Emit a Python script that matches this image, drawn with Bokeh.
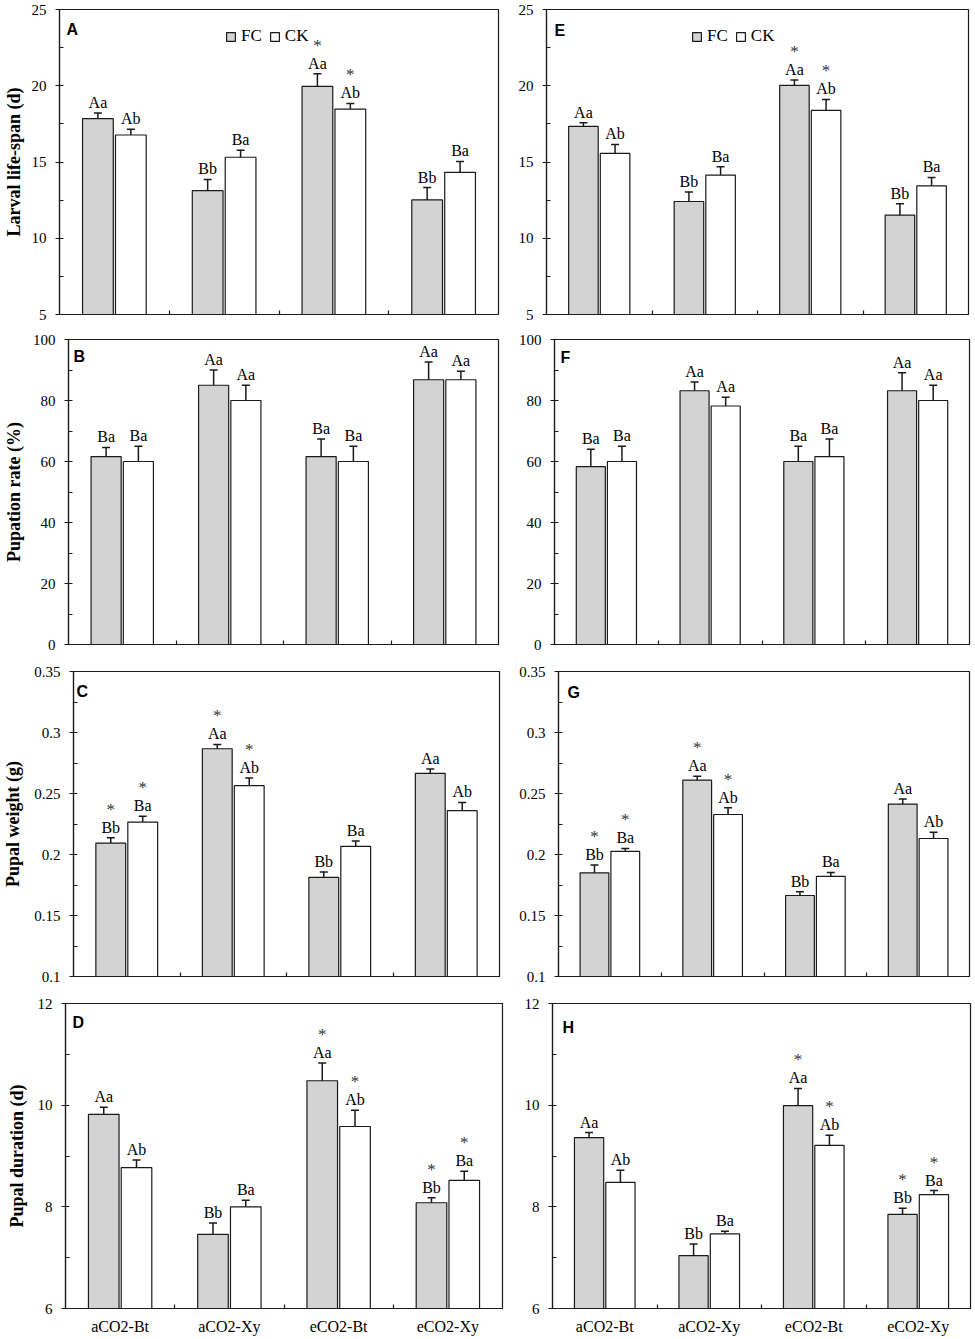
import numpy as np
from bokeh.plotting import figure
from bokeh.models import (ColumnDataSource, Whisker, TeeHead, LabelSet, Label, Legend,
                          LegendItem, FixedTicker, CustomJSTickFormatter, Range1d)
from bokeh.layouts import row, column
from bokeh.core.properties import value
from bokeh.embed import file_html
from bokeh.resources import INLINE

# ---------------- data ----------------
groups = ["aCO2-Bt", "aCO2-Xy", "eCO2-Bt", "eCO2-Xy"]

larval_ticks = [5, 10, 15, 20, 25]
pupation_ticks = [0, 20, 40, 60, 80, 100]
weight_ticks = [0.1, 0.15, 0.2, 0.25, 0.3, 0.35]
duration_ticks = [6, 8, 10, 12]

# A: larval life-span, left column
A_fc = [17.84, 13.12, 19.96, 12.51]
A_fc_err = [0.37, 0.74, 0.83, 0.81]
A_ck = [16.77, 15.31, 18.47, 14.32]
A_ck_err = [0.37, 0.46, 0.37, 0.72]
# E: larval life-span, right column
E_fc = [17.33, 12.41, 20.02, 11.51]
E_fc_err = [0.24, 0.63, 0.35, 0.75]
E_ck = [15.56, 14.14, 18.38, 13.44]
E_ck_err = [0.59, 0.55, 0.72, 0.55]
larval_fc_lab = ["Aa", "Bb", "Aa", "Bb"]
larval_ck_lab = ["Ab", "Ba", "Ab", "Ba"]
larval_fc_star = ["", "", "*", ""]
larval_ck_star = ["", "", "*", ""]

# B / F: pupation rate
B_fc = [61.6, 85.0, 61.6, 86.8]
B_fc_err = [3.0, 5.0, 5.8, 5.8]
B_ck = [60.0, 80.0, 60.0, 86.8]
B_ck_err = [5.0, 5.0, 5.0, 2.8]
F_fc = [58.3, 83.2, 60.0, 83.2]
F_fc_err = [5.7, 2.9, 5.0, 5.9]
F_ck = [60.0, 78.2, 61.6, 80.0]
F_ck_err = [5.0, 2.9, 5.8, 5.0]
pupation_fc_lab = ["Ba", "Aa", "Ba", "Aa"]
pupation_ck_lab = ["Ba", "Aa", "Ba", "Aa"]
pupation_fc_star = ["", "", "", ""]
pupation_ck_star = ["", "", "", ""]

# C / G: pupal weight
C_fc = [0.2094, 0.2867, 0.1813, 0.2665]
C_fc_err = [0.0044, 0.0035, 0.0044, 0.0035]
C_ck = [0.2266, 0.2564, 0.2067, 0.2359]
C_ck_err = [0.0047, 0.0063, 0.0044, 0.0068]
G_fc = [0.1850, 0.2609, 0.1664, 0.2413]
G_fc_err = [0.0063, 0.0033, 0.0030, 0.0041]
G_ck = [0.2025, 0.2328, 0.1820, 0.2131]
G_ck_err = [0.0025, 0.0055, 0.0033, 0.0052]
weight_fc_lab = ["Bb", "Aa", "Bb", "Aa"]
weight_ck_lab = ["Ba", "Ab", "Ba", "Ab"]
weight_fc_star = ["*", "*", "", ""]
weight_ck_star = ["*", "*", "", ""]

# D / H: pupal duration
D_fc = [9.82, 7.46, 10.48, 8.08]
D_fc_err = [0.14, 0.22, 0.35, 0.10]
D_ck = [8.77, 8.00, 9.58, 8.52]
D_ck_err = [0.15, 0.13, 0.32, 0.18]
H_fc = [9.36, 7.04, 9.99, 7.85]
H_fc_err = [0.10, 0.23, 0.34, 0.12]
H_ck = [8.48, 7.47, 9.21, 8.24]
H_ck_err = [0.24, 0.05, 0.20, 0.08]
duration_fc_lab = ["Aa", "Bb", "Aa", "Bb"]
duration_ck_lab = ["Ab", "Ba", "Ab", "Ba"]
duration_fc_star = ["", "", "*", "*"]
duration_ck_star = ["", "", "*", "*"]

# ---------------- style ----------------
SERIF = "Liberation Serif"
SANS = "Liberation Sans"
FC_FILL = "#d3d3d3"
INK = "#1a1a1a"


def panel(letter, ylabel, yticks, fc, fce, ck, cke, fcl, ckl, fcs, cks,
          size, borders, letter_off, label_standoff, show_x, legend_loc=None):
    w, h = size
    bl, br, bt, bb = borders
    y0, y1 = yticks[0], yticks[-1]
    p = figure(width=w, height=h, min_border_left=bl, min_border_right=br,
               min_border_top=bt, min_border_bottom=bb,
               x_range=Range1d(0, len(groups)), y_range=Range1d(y0, y1),
               output_backend="svg", toolbar_location=None, tools="")
    p.xgrid.visible = False
    p.ygrid.visible = False
    p.outline_line_color = INK
    p.outline_line_width = 1.2
    p.outline_line_alpha = 1.0
    p.background_fill_color = "white"
    p.border_fill_color = "white"

    xc = np.arange(len(groups)) + 0.5
    renderers = []
    for series, err, lab, star, dx, fill in ((fc, fce, fcl, fcs, -0.15, FC_FILL),
                                              (ck, cke, ckl, cks, 0.15, "white")):
        v = np.array(series, dtype=float)
        e = np.array(err, dtype=float)
        src = ColumnDataSource(dict(x=xc + dx, top=v, hi=v + e, lo=v - e, lab=lab))
        r = p.vbar(x="x", top="top", bottom=y0, width=0.28, source=src,
                   fill_color=fill, line_color=INK, line_width=1.2)
        renderers.append(r)
        p.add_layout(Whisker(source=src, base="x", upper="hi", lower="lo",
                             line_color=INK, line_width=1.5,
                             upper_head=TeeHead(size=8, line_color=INK, line_width=1.5),
                             lower_head=TeeHead(size=8, line_color=INK, line_width=1.5)))
        p.add_layout(LabelSet(x="x", y="hi", text="lab", source=src,
                              text_align="center", text_baseline="alphabetic",
                              y_offset=5, text_font=value(SERIF),
                              text_font_size="16px", text_color="black"))
        keep = [i for i, s in enumerate(star) if s]
        if keep:
            ssrc = ColumnDataSource(dict(x=(xc + dx)[keep], hi=(v + e)[keep],
                                         star=[star[i] for i in keep]))
            p.add_layout(LabelSet(x="x", y="hi", text="star", source=ssrc,
                                  text_align="center", text_baseline="alphabetic",
                                  y_offset=23, text_font=value(SERIF),
                                  text_font_size="17px", text_color="#333333"))

    # x axis
    xa = p.xaxis[0]
    inner = list(np.arange(1, len(groups)))
    xa.major_tick_in = 0
    xa.major_tick_out = 0
    xa.minor_tick_in = 4
    xa.minor_tick_out = 0
    xa.axis_line_color = INK
    xa.axis_line_width = 1.2
    xa.minor_tick_line_color = INK
    xa.minor_tick_line_width = 1.2
    xa.major_label_text_font = SERIF
    xa.major_label_text_color = "black"
    if show_x:
        xa.ticker = FixedTicker(ticks=list(xc), minor_ticks=inner)
        xa.major_label_overrides = {float(x): g for x, g in zip(xc, groups)}
        xa.major_label_text_font_size = "16px"
        xa.major_label_standoff = 9
    else:
        xa.ticker = FixedTicker(ticks=[], minor_ticks=inner)
        xa.major_label_standoff = 0

    # y axis
    ya = p.yaxis[0]
    t = np.array(yticks, dtype=float)
    ya.ticker = FixedTicker(ticks=list(yticks), minor_ticks=list((t[:-1] + t[1:]) / 2))
    ya.formatter = CustomJSTickFormatter(code="return String(Number(tick.toFixed(4)));")
    ya.major_tick_in = 4
    ya.major_tick_out = 4
    ya.minor_tick_in = 4
    ya.minor_tick_out = 0
    ya.axis_line_color = INK
    ya.axis_line_width = 1.2
    ya.major_tick_line_color = INK
    ya.major_tick_line_width = 1.2
    ya.minor_tick_line_color = INK
    ya.minor_tick_line_width = 1.2
    ya.major_label_text_font = SERIF
    ya.major_label_text_font_size = "15px"
    ya.major_label_text_color = "black"
    ya.major_label_standoff = 9
    if ylabel:
        ya.axis_label = ylabel
        ya.axis_label_text_font = SERIF
        ya.axis_label_text_font_style = "bold"
        ya.axis_label_text_font_size = "18px"
        ya.axis_label_text_color = "black"
        ya.axis_label_standoff = label_standoff

    ldx, ldy = letter_off
    p.add_layout(Label(x=0, y=y1, x_offset=ldx, y_offset=-(ldy + 11), text=letter,
                       text_font=SANS, text_font_style="bold", text_font_size="16px",
                       text_color="black", text_baseline="alphabetic"))

    if legend_loc is not None:
        lg = Legend(items=[LegendItem(label="FC", renderers=[renderers[0]]),
                           LegendItem(label="CK", renderers=[renderers[1]])],
                    location=legend_loc, orientation="horizontal",
                    glyph_width=11, glyph_height=11, label_height=11,
                    label_standoff=5, spacing=7, padding=0, margin=0,
                    border_line_color=None, background_fill_alpha=0,
                    label_text_font=SERIF, label_text_font_size="17px",
                    label_text_color="black")
        p.add_layout(lg)
    return p


LW, RW = 505, 470
pA = panel("A", "Larval life-span (d)", larval_ticks, A_fc, A_fc_err, A_ck, A_ck_err,
           larval_fc_lab, larval_ck_lab, larval_fc_star, larval_ck_star,
           (LW, 328), (56, 7, 9, 14), (7, 9), 5, False, legend_loc=(166, 268))
pE = panel("E", None, larval_ticks, E_fc, E_fc_err, E_ck, E_ck_err,
           larval_fc_lab, larval_ck_lab, larval_fc_star, larval_ck_star,
           (RW, 328), (41, 7, 9, 14), (8, 10), 0, False, legend_loc=(145, 268))
pB = panel("B", "Pupation rate (%)", pupation_ticks, B_fc, B_fc_err, B_ck, B_ck_err,
           pupation_fc_lab, pupation_ck_lab, pupation_fc_star, pupation_ck_star,
           (LW, 330), (63, 7, 11, 14), (5, 6), 6, False)
pF = panel("F", None, pupation_ticks, F_fc, F_fc_err, F_ck, F_ck_err,
           pupation_fc_lab, pupation_ck_lab, pupation_fc_star, pupation_ck_star,
           (RW, 330), (49, 6, 11, 14), (6, 7), 0, False)
pC = panel("C", "Pupal weight (g)", weight_ticks, C_fc, C_fc_err, C_ck, C_ck_err,
           weight_fc_lab, weight_ck_lab, weight_fc_star, weight_ck_star,
           (LW, 332), (69, 6, 13, 14), (3, 9), 8, False)
pG = panel("G", None, weight_ticks, G_fc, G_fc_err, G_ck, G_ck_err,
           weight_fc_lab, weight_ck_lab, weight_fc_star, weight_ck_star,
           (RW, 332), (53, 6, 13, 14), (9, 10), 0, False)
pD = panel("D", "Pupal duration (d)", duration_ticks, D_fc, D_fc_err, D_ck, D_ck_err,
           duration_fc_lab, duration_ck_lab, duration_fc_star, duration_ck_star,
           (LW, 349), (65, 3, 13, 31), (7, 8), 8, True)
pH = panel("H", None, duration_ticks, H_fc, H_fc_err, H_ck, H_ck_err,
           duration_fc_lab, duration_ck_lab, duration_fc_star, duration_ck_star,
           (RW, 349), (47, 5, 13, 31), (10, 13), 0, True)

layout = column(row(pA, pE), row(pB, pF), row(pC, pG), row(pD, pH))
open("out.html", "w").write(file_html(layout, INLINE))
